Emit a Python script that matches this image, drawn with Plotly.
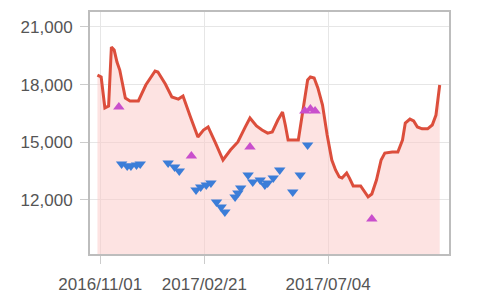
import plotly.graph_objects as go

line_dates = ["2016-10-29","2016-11-02","2016-11-06","2016-11-10","2016-11-13","2016-11-16","2016-11-19","2016-11-22",
              "2016-11-28","2016-12-03","2016-12-12","2016-12-20","2016-12-30","2017-01-02","2017-01-10","2017-01-17",
              "2017-01-24","2017-01-29","2017-02-06","2017-02-14","2017-02-20","2017-02-25","2017-03-05","2017-03-13",
              "2017-03-21","2017-03-29","2017-04-06","2017-04-11","2017-04-18","2017-04-24","2017-04-30","2017-05-05",
              "2017-05-11","2017-05-16","2017-05-19","2017-05-22","2017-06-02","2017-06-07","2017-06-12","2017-06-15",
              "2017-06-19","2017-06-23","2017-06-28","2017-07-03","2017-07-08","2017-07-12","2017-07-16","2017-07-19",
              "2017-07-24","2017-07-27","2017-07-31","2017-08-08","2017-08-12","2017-08-16","2017-08-20","2017-08-25",
              "2017-08-30","2017-09-03","2017-09-11","2017-09-17","2017-09-22","2017-09-25","2017-09-30","2017-10-04",
              "2017-10-08","2017-10-13","2017-10-19","2017-10-24","2017-10-28","2017-10-30","2017-11-01"]
line_values = [18500,18400,16790,16890,19960,19800,19180,18760,
               17300,17150,17150,17980,18710,18660,18030,17360,
               17250,17410,16320,15280,15640,15800,14960,14080,
               14600,15020,15800,16265,15850,15640,15480,15540,
               16160,16580,15900,15120,15120,16680,18240,18400,
               18350,17830,16940,15380,14080,13560,13200,13140,
               13400,13140,12730,12730,12420,12160,12310,13040,
               14080,14440,14500,14500,15120,16000,16210,16110,
               15800,15700,15700,15900,16420,17200,17980]

down_dates = ["2016-11-24","2016-11-30","2016-12-04","2016-12-10","2016-12-14",
              "2017-01-13","2017-01-20","2017-01-25",
              "2017-02-12","2017-02-17","2017-02-23","2017-02-28","2017-03-06","2017-03-11","2017-03-15",
              "2017-03-26","2017-03-29","2017-04-01","2017-04-09","2017-04-14","2017-04-22","2017-04-27",
              "2017-04-30","2017-05-06","2017-05-13","2017-05-27","2017-06-04","2017-06-12"]
down_values = [13870,13770,13770,13820,13870,
               13920,13720,13510,
               12520,12680,12780,12880,11900,11630,11370,
               12150,12360,12620,13300,12940,13040,12780,
               12880,13140,13560,12420,13300,14860]

up_dates = ["2016-11-21","2017-02-07","2017-04-11","2017-06-09","2017-06-15","2017-06-20","2017-08-20"]
up_values = [16840,14290,14760,16630,16730,16630,11010]

tick_vals = ["2016-11-01","2017-02-21","2017-07-04"]
tick_text = ["2016/11/01","2017/02/21","2017/07/04"]

fig = go.Figure()
fig.add_trace(go.Scatter(x=line_dates, y=line_values, mode="lines",
                         line=dict(color="#dc4e3c", width=3),
                         fill="tozeroy", fillcolor="rgba(252,200,198,0.5)",
                         hoverinfo="skip"))
fig.add_trace(go.Scatter(x=down_dates, y=down_values, mode="markers",
                         marker=dict(symbol="triangle-down", size=10, color="#3b7dd8")))
fig.add_trace(go.Scatter(x=up_dates, y=up_values, mode="markers",
                         marker=dict(symbol="triangle-up", size=10, color="#c94fcc")))

fig.update_layout(
    width=500, height=302,
    margin=dict(l=90, r=51, t=12, b=48),
    paper_bgcolor="white", plot_bgcolor="white",
    showlegend=False,
    font=dict(family="Liberation Sans, Arial, sans-serif", size=17, color="#555"),
)
fig.update_xaxes(type="date", range=["2016-10-21", "2017-11-11"],
                 tickvals=tick_vals, ticktext=tick_text,
                 showgrid=True, gridcolor="#e6e6e6", gridwidth=1,
                 showline=True, linecolor="#bdbdbd", linewidth=2, mirror=True,
                 ticks="outside", ticklen=8, tickcolor="#cccccc", zeroline=False,
                 ticklabelstandoff=6, automargin=False)
fig.update_yaxes(range=[9190, 21780], tickvals=[12000, 15000, 18000, 21000],
                 tickformat=",d",
                 showgrid=True, gridcolor="#e6e6e6", gridwidth=1,
                 showline=True, linecolor="#bdbdbd", linewidth=2, mirror=True,
                 ticks="outside", ticklen=8, tickcolor="#cccccc", zeroline=False,
                 ticklabelstandoff=4, automargin=False)

fig.write_html("out.html")
